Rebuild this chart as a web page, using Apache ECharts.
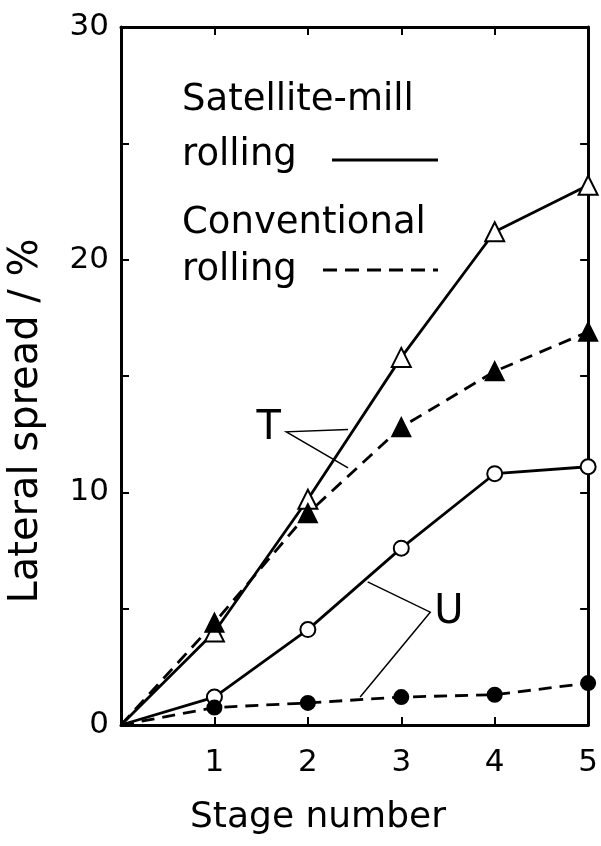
<!DOCTYPE html>
<html>
<head>
<meta charset="utf-8">
<script src="https://cdn.jsdelivr.net/npm/echarts@6/dist/echarts.min.js"></script>
<style>
  html, body { margin: 0; padding: 0; background: #fff; }
  #chart { width: 601px; height: 846px; }
</style>
</head>
<body>
<div id="chart"></div>
<script>
// data
var stages = [0, 1, 2, 3, 4, 5];
var satelliteT = [0, 4.0, 9.7, 15.8, 21.2, 23.2];
var conventionalT = [0, 4.4, 9.1, 12.8, 15.2, 16.9];
var satelliteU = [0, 1.2, 4.1, 7.6, 10.8, 11.1];
var conventionalU = [0, 0.75, 0.95, 1.2, 1.3, 1.8];
var xTickLabels = [1, 2, 3, 4, 5];
var yTickLabels = [0, 10, 20, 30];

var FONT = '"DejaVu Sans", sans-serif';

function toData(vals) {
  return stages.map(function (s, i) {
    var item = { value: [s, vals[i]] };
    if (s === 0) item.symbol = 'none';
    return item;
  });
}

function lineSeries(name, vals, dashed, symbol, filled, size) {
  return {
    name: name,
    type: 'line',
    data: toData(vals),
    symbol: symbol,
    symbolSize: size,
    showAllSymbol: true,
    z: filled ? 4 : 3,
    lineStyle: { color: '#000', width: 2.8, type: dashed ? [13, 8] : 'solid' },
    itemStyle: { color: filled ? '#000' : '#fff', borderColor: '#000', borderWidth: 2 },
    emphasis: { disabled: true },
  };
}

var axisLine = { show: true, onZero: false, lineStyle: { color: '#000', width: 3 } };
var tick = { show: true, inside: true, length: 8, lineStyle: { color: '#000', width: 2 } };

var option = {
  animation: false,
  backgroundColor: '#fff',
  grid: { left: 121, right: 9, top: 27, bottom: 121 },
  xAxis: [
    {
      type: 'value', min: 0, max: 5, interval: 1,
      axisLine: axisLine, axisTick: tick, splitLine: { show: false },
      axisLabel: {
        margin: 22, color: '#000', fontSize: 31, fontFamily: FONT,
        formatter: function (v) { return xTickLabels.indexOf(v) >= 0 ? String(v) : ''; },
      },
    },
    {
      type: 'value', position: 'top', min: 0, max: 5, interval: 1,
      axisLine: axisLine, axisTick: tick, axisLabel: { show: false }, splitLine: { show: false },
    },
  ],
  yAxis: [
    {
      type: 'value', min: 0, max: 30, interval: 5,
      axisLine: axisLine, axisTick: tick, splitLine: { show: false },
      axisLabel: {
        margin: 12, color: '#000', fontSize: 31, fontFamily: FONT,
        formatter: function (v) { return yTickLabels.indexOf(v) >= 0 ? String(v) : ''; },
      },
    },
    {
      type: 'value', position: 'right', min: 0, max: 30, interval: 5,
      axisLine: axisLine, axisTick: tick, axisLabel: { show: false }, splitLine: { show: false },
    },
  ],
  series: [
    lineSeries('Satellite T', satelliteT, false, 'triangle', false, 19),
    lineSeries('Conventional T', conventionalT, true, 'triangle', true, 18),
    lineSeries('Satellite U', satelliteU, false, 'circle', false, 15),
    lineSeries('Conventional U', conventionalU, true, 'circle', true, 14),
  ],
};

var chart = echarts.init(document.getElementById('chart'));
chart.setOption(option);

// annotation anchors in data units
var tLabel = [1.58, 12.75];
var tLeader = [[2.43, 12.7], [1.77, 12.6], [2.43, 11.05]];
var uLabel = [3.51, 4.85];
var uLeader = [[2.64, 6.15], [3.31, 4.85], [2.56, 1.2]];

function px(p) { return chart.convertToPixel({ gridIndex: 0 }, p); }

function txt(s, x, y, size, align, rot) {
  return {
    type: 'text', x: x, y: y, rotation: rot || 0, z: 10,
    style: {
      text: s, font: size + 'px ' + FONT, fill: '#000',
      align: align || 'left', verticalAlign: 'middle',
      textAlign: align || 'left', textVerticalAlign: 'middle',
    },
  };
}

function leader(pts) {
  return {
    type: 'polyline', z: 10,
    shape: { points: pts.map(px) },
    style: { stroke: '#000', lineWidth: 1.5, fill: null },
  };
}

var tp = px(tLabel), up = px(uLabel);
chart.setOption({
  graphic: [
    txt('Satellite-mill', 182, 100, 37),
    txt('rolling', 182, 155, 37),
    txt('Conventional', 182, 223, 37),
    txt('rolling', 182, 270, 37),
    { type: 'line', z: 10, shape: { x1: 332, y1: 160, x2: 438, y2: 160 }, style: { stroke: '#000', lineWidth: 2.8 } },
    { type: 'line', z: 10, shape: { x1: 323, y1: 270, x2: 438, y2: 270 }, style: { stroke: '#000', lineWidth: 2.8, lineDash: [14, 8] } },
    txt('T', tp[0], tp[1], 40, 'center'),
    txt('U', up[0], up[1], 40, 'center'),
    leader(tLeader),
    leader(uLeader),
    txt('Lateral spread / %', 27, 421, 40, 'center', Math.PI / 2),
    txt('Stage number', 318, 818, 36, 'center'),
  ],
});
</script>
</body>
</html>
